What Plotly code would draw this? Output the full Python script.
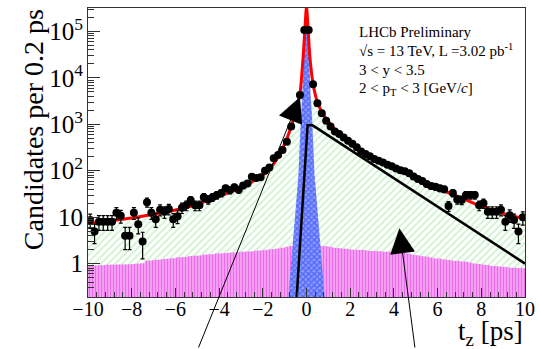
import numpy as np
import plotly.graph_objects as go

# ---------------- data ----------------
bin_centers = [round(-9.9 + 0.2 * i, 1) for i in range(100)]
counts = [8.7, 4.9, 8, 8, 8, 8, 12.5, 10.7, 4, 4,
          12.5, 7, 3, 21, 12.5, 9, 14.5, 13, 15, 9,
          10.5, 16, 18, 23, 18, 18, 27, 24, 27, 30,
          33, 42, 38, 44, 39, 48, 53, 74, 70, 72,
          100, 118, 185, 218, 280, 420, 900, 2000, 4300, 107000,
          107000, 7300, 2850, 1730, 1200, 900, 700, 620, 520, 440,
          380, 320, 260, 230, 205, 180, 165, 150, 135, 125,
          112, 103, 98, 88, 75, 66, 60, 52, 47, 45,
          42, 40, 17.5, 33, 24, 23.5, 30, 30, 30, 18,
          20, 13, 13, 13, 14.5, 8, 11, 8.7, 4.9, 9.9]

background = [0.9, 0.92, 0.93, 0.93, 0.94, 0.94, 0.95, 0.95, 0.96, 0.97,
              0.98, 1.0, 1.02, 1.15, 1.18, 1.2, 1.22, 1.25, 1.28, 1.3,
              1.35, 1.38, 1.4, 1.45, 1.48, 1.5, 1.55, 1.58, 1.6, 1.65,
              1.68, 1.7, 1.72, 1.75, 1.78, 1.8, 1.82, 1.85, 1.88, 1.9,
              1.95, 2.0, 2.05, 2.1, 2.2, 2.3, 2.4, 2.45, 2.5, 2.5,
              2.5, 2.5, 2.45, 2.4, 2.35, 2.3, 2.2, 2.15, 2.1, 2.05,
              2.0, 1.98, 1.95, 1.93, 1.9, 1.88, 1.85, 1.83, 1.82, 1.8,
              1.78, 1.75, 1.7, 1.62, 1.55, 1.5, 1.45, 1.4, 1.35, 1.3,
              1.27, 1.24, 1.2, 1.17, 1.14, 1.12, 1.1, 1.05, 1.0, 0.98,
              0.95, 0.92, 0.9, 0.88, 0.86, 0.84, 0.82, 0.8, 0.8, 0.79]

fit_t = [-10, -9, -8, -7, -6, -5, -4, -3, -2, -1.5, -1, -0.7, -0.5, -0.3, -0.15, -0.07, 0,
         0.07, 0.15, 0.3, 0.5, 0.75, 1, 1.5, 2, 3, 4, 5, 6, 7, 8, 9, 10]
fit_y = [7.3, 8.3, 9.6, 11.6, 14.3, 19, 28, 43, 80, 140, 380, 900, 1900, 4500, 30000, 120000, 350000,
         120000, 30000, 7500, 3000, 1700, 1150, 620, 420, 190, 115, 70, 42, 27, 17, 12, 9.2]

fromb_t = [-10, -9, -8, -7, -6, -5, -4, -3, -2, -1.5, -1, -0.7, -0.45, -0.25, 0, 0.15, 0.3, 0.5,
           0.75, 1, 1.5, 2, 3, 4, 5, 6, 7, 8, 9, 10]
fromb_y = [6.3, 7.2, 8.5, 10.3, 12.8, 17, 25, 40, 75, 130, 320, 600, 900, 1800, 3500, 4000, 3800, 2700,
           1650, 1100, 600, 400, 180, 110, 66, 39, 25, 15.5, 10.5, 8.2]

prompt_t = [-0.83, -0.6, -0.37, -0.31, -0.25, -0.19, -0.13, -0.08, 0,
            0.08, 0.13, 0.19, 0.25, 0.31, 0.37, 0.6, 0.83]
prompt_y = [0.19, 4, 80, 400, 1600, 4000, 20000, 100000, 350000,
            100000, 20000, 4000, 1600, 400, 80, 4, 0.19]

guide_t = [-0.45, 0.05, 0.28, 10.0]
guide_y = [0.19, 950, 950, 1.0]

BOTTOM = 1e-3
SERIF = "Liberation Serif, Times New Roman, serif"

# ---------------- figure ----------------
fig = go.Figure()

# from-b component (green hatched)
fig.add_trace(go.Scatter(
    x=fromb_t + [10, -10], y=fromb_y + [BOTTOM, BOTTOM],
    mode="lines", line=dict(width=0, color="rgba(0,0,0,0)"),
    fill="toself", fillcolor="rgba(255,255,255,0)",
    fillpattern=dict(shape="/", fgcolor="#a2e8a2", bgcolor="rgba(255,255,255,0)",
                     size=5, solidity=0.38),
    hoverinfo="skip", showlegend=False))

# background histogram (magenta)
edges = [round(-10 + 0.2 * i, 1) for i in range(101)]
step_x, step_y = [], []
for i, v in enumerate(background):
    step_x += [edges[i], edges[i + 1]]
    step_y += [v, v]
fig.add_trace(go.Scatter(
    x=step_x + [10, -10], y=step_y + [BOTTOM, BOTTOM],
    mode="lines", line=dict(width=0, color="rgba(0,0,0,0)"),
    fill="toself", fillcolor="#f39af3",
    fillpattern=dict(shape="|", fgcolor="#e030e0", bgcolor="#f5a8f5", size=3, solidity=0.45),
    hoverinfo="skip", showlegend=False))

# prompt component (blue)
fig.add_trace(go.Scatter(
    x=prompt_t, y=prompt_y,
    mode="lines", line=dict(width=0, color="rgba(0,0,0,0)"),
    fill="toself", fillcolor="#3a52ff",
    fillpattern=dict(shape="x", fgcolor="#1a34f0", bgcolor="#8d9dff", size=4, solidity=0.6),
    hoverinfo="skip", showlegend=False))

# black guide line
fig.add_trace(go.Scatter(
    x=guide_t, y=guide_y, mode="lines",
    line=dict(color="black", width=2.5), hoverinfo="skip", showlegend=False))

# total fit (red)
fig.add_trace(go.Scatter(
    x=fit_t, y=fit_y, mode="lines",
    line=dict(color="#ff0000", width=3, shape="spline", smoothing=0.6),
    hoverinfo="skip", showlegend=False))

# data points
fig.add_trace(go.Scatter(
    x=bin_centers, y=counts, mode="markers",
    marker=dict(color="black", size=8),
    error_y=dict(type="data", array=list(np.sqrt(counts)), color="black", thickness=1.2, width=2),
    showlegend=False))

axis_font = dict(family=SERIF, size=20, color="black")
fig.update_layout(
    width=540, height=349,
    margin=dict(l=88, r=15, t=8, b=52, autoexpand=False),
    paper_bgcolor="white", plot_bgcolor="white",
    xaxis=dict(range=[-10, 10], tick0=-10, dtick=2, ticks="inside", ticklen=9, tickwidth=1,
               tickcolor="#333", showline=True, linecolor="#333", linewidth=1, mirror=True,
               showgrid=False, zeroline=False, tickfont=axis_font, ticklabelstandoff=-6,
               minor=dict(ticks="inside", ticklen=5, dtick=0.4, tickcolor="#333", showgrid=False)),
    yaxis=dict(type="log", range=[-0.72, 5.506], dtick=1, exponentformat="power",
               ticks="inside", ticklen=12, tickwidth=1, tickcolor="#333",
               showline=True, linecolor="#333", linewidth=1, mirror=True,
               showgrid=False, zeroline=False, tickfont=axis_font,
               minor=dict(ticks="inside", ticklen=6, tickcolor="#333", showgrid=False)),
)

ann = []
ann.append(dict(text="Candidates per 0.2 ps", textangle=-90, xref="paper", yref="paper",
                x=-0.124, y=0.58, xanchor="center", yanchor="middle", showarrow=False,
                font=dict(family=SERIF, size=28, color="black")))
ann.append(dict(text="t<sub>z</sub> [ps]", xref="paper", yref="paper", x=1.0, y=-0.125,
                xanchor="right", yanchor="middle", showarrow=False,
                font=dict(family=SERIF, size=27, color="black")))
lines = ["LHCb Preliminary",
         "√s = 13 TeV, L =3.02 pb<sup>-1</sup>",
         "3 < y < 3.5",
         "2 < p<sub>T</sub> < 3 [GeV/<i>c</i>]"]
ys = [31.7, 50, 70, 89.3]
for txt, ypx in zip(lines, ys):
    ann.append(dict(text=txt, xref="paper", yref="paper", x=(357 - 88) / 437,
                    y=(297 - ypx) / 289, xanchor="left", yanchor="middle", showarrow=False,
                    font=dict(family=SERIF, size=15, color="black")))
# arrows
ann.append(dict(x=-0.30, y=3.59, ax=-4.97, ay=-1.84, xref="x", yref="y", axref="x", ayref="y",
                text="", showarrow=True, arrowhead=2, arrowsize=5, arrowwidth=1, arrowcolor="black"))
ann.append(dict(x=4.25, y=0.76, ax=4.97, ay=-1.84, xref="x", yref="y", axref="x", ayref="y",
                text="", showarrow=True, arrowhead=2, arrowsize=5, arrowwidth=1, arrowcolor="black"))
fig.update_layout(annotations=ann)

fig.write_html("out.html", config={"displayModeBar": False},
               post_script="document.body.style.margin='0px';")
